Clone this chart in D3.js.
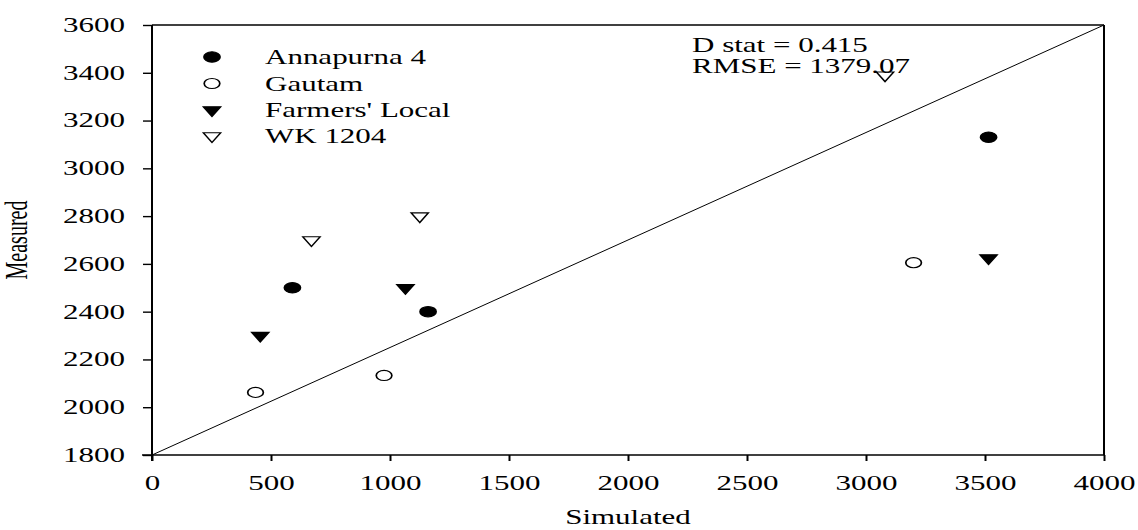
<!DOCTYPE html>
<html>
<head>
<meta charset="utf-8">
<script src="https://cdn.jsdelivr.net/npm/d3@7"></script>
<style>
  html, body { margin: 0; padding: 0; background: #fff; }
  svg { display: block; }
  text { font-family: "Liberation Serif", "Times New Roman", serif; fill: #000; }
</style>
</head>
<body>
<svg id="chart" width="1138" height="530"></svg>
<script>
// Simulated vs. measured grain yield for four wheat varieties
const seriesNames = ["Annapurna 4", "Gautam", "Farmers' Local", "WK 1204"];
const annapurnaSim = [590, 1160, 3515];
const annapurnaMeas = [2500, 2400, 3130];
const gautamSim = [435, 975, 3200];
const gautamMeas = [2062, 2133, 2605];
const farmersSim = [455, 1065, 3515];
const farmersMeas = [2300, 2500, 2625];
const wkSim = [670, 1125, 3080];
const wkMeas = [2700, 2800, 3390];
const xTicks = [0, 500, 1000, 1500, 2000, 2500, 3000, 3500, 4000];
const yTicks = [1800, 2000, 2200, 2400, 2600, 2800, 3000, 3200, 3400, 3600];
const statLines = ["D stat = 0.415", "RMSE = 1379.07"];

const STRETCH = 1.55; // horizontal widening of glyphs and markers
const svg = d3.select("#chart");
const plotL = 152, plotR = 1104, plotT = 25, plotB = 455;

const x = d3.scaleLinear().domain([0, 4000]).range([plotL, plotR]);
const y = d3.scaleLinear().domain([1800, 3600]).range([plotB, plotT]);

// marker styles per series
const markers = [
  { type: d3.symbolCircle, size: 85, fill: "#000" },
  { type: d3.symbolCircle, size: 80, fill: "#fff" },
  { type: d3.symbolTriangle, size: 54, fill: "#000", flip: true },
  { type: d3.symbolTriangle, size: 54, fill: "#fff", flip: true }
];
const sims = [annapurnaSim, gautamSim, farmersSim, wkSim];
const meas = [annapurnaMeas, gautamMeas, farmersMeas, wkMeas];

// axes
const yAxis = d3.axisLeft(y).tickValues(yTicks).tickSize(9).tickSizeOuter(0).tickFormat(d3.format("d"));
const xAxis = d3.axisBottom(x).tickValues(xTicks).tickSize(6).tickSizeOuter(0).tickFormat(d3.format("d"));

const gy = svg.append("g").attr("transform", `translate(${plotL},0)`).call(yAxis);
gy.select(".domain").remove();
gy.selectAll(".tick line").attr("stroke", "#000").attr("stroke-width", 1.4);
gy.selectAll(".tick text")
  .attr("x", -17.4)
  .attr("font-size", 20)
  .attr("font-family", "Liberation Serif, Times New Roman, serif")
  .attr("transform", `scale(${STRETCH},1)`);

const gx = svg.append("g").attr("transform", `translate(0,${plotB})`).call(xAxis);
gx.select(".domain").remove();
gx.selectAll(".tick line").attr("stroke", "#000").attr("stroke-width", 2);
gx.selectAll(".tick text")
  .attr("y", 35).attr("dy", null)
  .attr("font-size", 20)
  .attr("font-family", "Liberation Serif, Times New Roman, serif")
  .attr("transform", `scale(${STRETCH},1)`);

// frame: left/bottom axis lines extend past the corner, top/right close the box
const frame = svg.append("g").attr("stroke", "#000").attr("fill", "none");
frame.append("line").attr("x1", plotL).attr("x2", plotL).attr("y1", plotT).attr("y2", plotB + 6).attr("stroke-width", 2);
frame.append("line").attr("x1", plotL - 10).attr("x2", plotR).attr("y1", plotB).attr("y2", plotB).attr("stroke-width", 1.4);
frame.append("line").attr("x1", plotL).attr("x2", plotR).attr("y1", plotT).attr("y2", plotT).attr("stroke-width", 1.4);
frame.append("line").attr("x1", plotR).attr("x2", plotR).attr("y1", plotT).attr("y2", plotB).attr("stroke-width", 2);

// reference diagonal across the plot
svg.append("line")
  .attr("x1", x(0)).attr("y1", y(1800))
  .attr("x2", x(4000)).attr("y2", y(3600))
  .attr("stroke", "#000").attr("stroke-width", 1);

function drawMarker(g, m, cx, cy) {
  g.append("path")
    .attr("d", d3.symbol().type(m.type).size(m.size)())
    .attr("transform", `translate(${cx},${cy}) scale(${STRETCH},1)` + (m.flip ? " rotate(180)" : ""))
    .attr("fill", m.fill)
    .attr("stroke", "#000")
    .attr("stroke-width", 1.1);
}

// data points
const pts = svg.append("g");
sims.forEach((s, i) => {
  s.forEach((v, j) => drawMarker(pts, markers[i], x(v), y(meas[i][j])));
});

// legend
const legend = svg.append("g");
const legendRows = [57, 83.5, 110, 136];
seriesNames.forEach((name, i) => {
  drawMarker(legend, markers[i], 212, legendRows[i]);
  legend.append("text")
    .attr("transform", `translate(265,${legendRows[i] + 7}) scale(${STRETCH},1)`)
    .attr("font-size", 20)
    .text(name);
});

// goodness-of-fit statistics
statLines.forEach((t, i) => {
  svg.append("text")
    .attr("transform", `translate(692,${51.5 + i * 21.5}) scale(${STRETCH},1)`)
    .attr("font-size", 20)
    .text(t);
});

// axis titles
svg.append("text")
  .attr("transform", `translate(628,524) scale(${STRETCH},1)`)
  .attr("text-anchor", "middle")
  .attr("font-size", 20)
  .text("Simulated");

svg.append("text")
  .attr("transform", `translate(27,240) scale(${STRETCH},1) rotate(-90)`)
  .attr("text-anchor", "middle")
  .attr("font-size", 20)
  .text("Measured");
</script>
</body>
</html>
